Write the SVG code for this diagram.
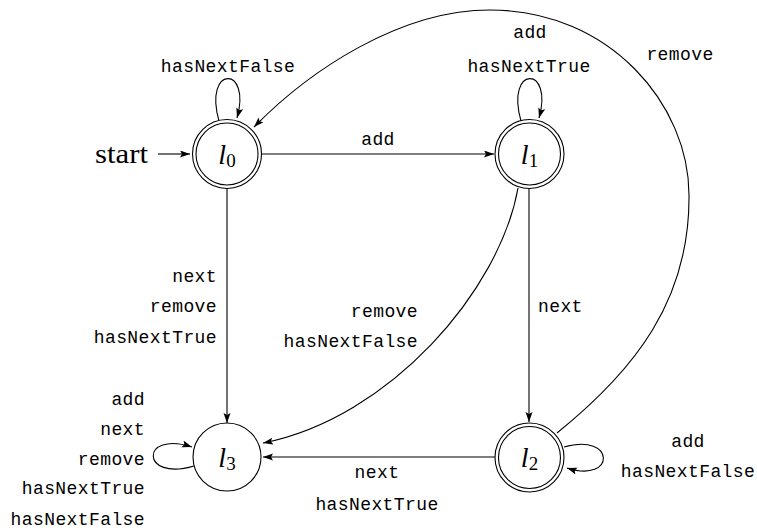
<svg xmlns="http://www.w3.org/2000/svg" width="757" height="531" viewBox="0 0 757 531">
<defs>
<marker id="ah" markerUnits="userSpaceOnUse" markerWidth="12" markerHeight="10" refX="10" refY="3.5" orient="auto">
<path d="M0,0 L10,3.5 L0,7 L2,3.5 z" fill="#000"/>
</marker>
<style>
.st{fill:none;stroke:#000;stroke-width:1.1}
.c{fill:#fff;stroke:#000;stroke-width:1.1}
.e{fill:none;stroke:#000;stroke-width:1.1;marker-end:url(#ah)}
.lb{font-family:"Liberation Mono",monospace;font-size:18px;letter-spacing:0.4px;fill:#000}
.m{font-family:"Liberation Serif",serif;font-size:28px;fill:#000}
.mi{font-style:italic}
.sub{font-size:19px}
</style>
</defs>
<rect width="757" height="531" fill="#fff"/>
<g id="connectors">
<path class="e" d="M158,154 L190,154"/>
<path class="e" d="M262,154 L494,154"/>
<path class="e" d="M227,189 L227,423"/>
<path class="e" d="M529,189 L529,422"/>
<path class="e" d="M495,457 L263,457"/>
<path class="e" d="M518,188 C500,290 390,418 263,443"/>
<path class="e" d="M557,433 C635,370 690,300 689,195 C689,105 610,10 490,10 C400,10 310,70 254,127"/>
<path class="e" d="M219,121 C203,65 252,65 237,118"/>
<path class="e" d="M521,121 C505,65 554,65 539,118"/>
<path class="e" d="M564,447 C616,432 616,484 567,468"/>
<path class="e" d="M194,466 C140,482 140,430 192,447"/>
</g>
<g id="labels">
<text class="lb" x="228" y="72" text-anchor="middle">hasNextFalse</text>
<text class="lb" x="530" y="38" text-anchor="middle">add</text>
<text class="lb" x="529" y="72" text-anchor="middle">hasNextTrue</text>
<text class="lb" x="680" y="60" text-anchor="middle">remove</text>
<text class="lb" x="378" y="145" text-anchor="middle">add</text>
<text class="lb" x="217" y="282" text-anchor="end">next</text>
<text class="lb" x="217" y="312" text-anchor="end">remove</text>
<text class="lb" x="217" y="343" text-anchor="end">hasNextTrue</text>
<text class="lb" x="418" y="317" text-anchor="end">remove</text>
<text class="lb" x="418" y="347" text-anchor="end">hasNextFalse</text>
<text class="lb" x="538" y="312">next</text>
<text class="lb" x="145" y="405" text-anchor="end">add</text>
<text class="lb" x="145" y="435" text-anchor="end">next</text>
<text class="lb" x="145" y="465" text-anchor="end">remove</text>
<text class="lb" x="145" y="494" text-anchor="end">hasNextTrue</text>
<text class="lb" x="145" y="525" text-anchor="end">hasNextFalse</text>
<text class="lb" x="377" y="478" text-anchor="middle">next</text>
<text class="lb" x="377" y="510" text-anchor="middle">hasNextTrue</text>
<text class="lb" x="688" y="447" text-anchor="middle">add</text>
<text class="lb" x="688" y="477" text-anchor="middle">hasNextFalse</text>
<text class="m" x="95" y="163" font-size="26" textLength="53" lengthAdjust="spacingAndGlyphs">start</text>
</g>
<g id="l0">
<circle class="c" cx="227" cy="154" r="34.5"/>
<circle class="st" cx="227" cy="154" r="31"/>
<text class="m" x="227" y="164" text-anchor="middle"><tspan class="mi">l</tspan><tspan class="sub" dy="3">0</tspan></text>
</g>
<g id="l1">
<circle class="c" cx="529.5" cy="154" r="34.5"/>
<circle class="st" cx="529.5" cy="154" r="31"/>
<text class="m" x="529.5" y="164" text-anchor="middle"><tspan class="mi">l</tspan><tspan class="sub" dy="3">1</tspan></text>
</g>
<g id="l2">
<circle class="c" cx="529.5" cy="457.5" r="34.5"/>
<circle class="st" cx="529.5" cy="457.5" r="31"/>
<text class="m" x="529.5" y="467" text-anchor="middle"><tspan class="mi">l</tspan><tspan class="sub" dy="3">2</tspan></text>
</g>
<g id="l3">
<circle class="c" cx="227" cy="457" r="34"/>
<text class="m" x="227" y="467" text-anchor="middle"><tspan class="mi">l</tspan><tspan class="sub" dy="3">3</tspan></text>
</g>
</svg>
